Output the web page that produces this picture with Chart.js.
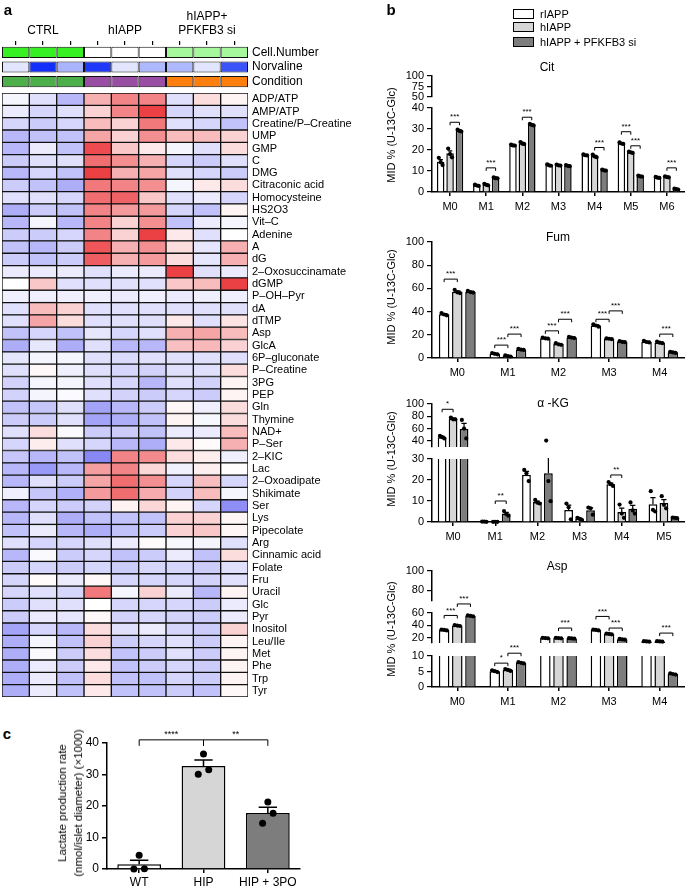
<!DOCTYPE html>
<html>
<head>
<meta charset="utf-8">
<script src="https://cdn.jsdelivr.net/npm/chart.js@4/dist/chart.umd.min.js"></script>
<style>
  body { margin: 0; width: 685px; height: 887px; position: relative; overflow: hidden; background: #fff;
         font-family: 'Liberation Sans', Arial, Helvetica, sans-serif; color: #000; }
  .t { position: absolute; white-space: nowrap; }
  .key { position: absolute; width: 19px; height: 8px; border: 1.5px solid #000; }
</style>
</head>
<body>
<script>
// ---------- panel a: heatmap ----------
const sampleIds = ['C1', 'C2', 'C3', 'H1', 'H2', 'H3', 'P1', 'P2', 'P3'];
const groupTickLabels = ['', 'CTRL', '', '', 'hIAPP', '', '', ['hIAPP+', 'PFKFB3 si'], ''];
const annotLabels = ['Cell.Number', 'Norvaline', 'Condition'];
const cellNumber = [1, 1, 1, 0, 0, 0, 0.45, 0.45, 0.45];
const norvaline = [0.12, 0.97, 0.35, 0.92, 0.12, 0.33, 0.33, 0.12, 0.8];
const condition = ['CTRL', 'CTRL', 'CTRL', 'hIAPP', 'hIAPP', 'hIAPP', 'PFKFB3', 'PFKFB3', 'PFKFB3'];
const conditionColors = { CTRL: '#4daf4a', hIAPP: '#984ea3', PFKFB3: '#ff7f0e' };

const rowLabels = ['ADP/ATP', 'AMP/ATP', 'Creatine/P–Creatine', 'UMP', 'GMP', 'C', 'DMG', 'Citraconic acid',
  'Homocysteine', 'HS2O3', 'Vit–C', 'Adenine', 'A', 'dG', '2–Oxosuccinamate', 'dGMP', 'P–OH–Pyr', 'dA',
  'dTMP', 'Asp', 'GlcA', '6P–gluconate', 'P–Creatine', '3PG', 'PEP', 'Gln', 'Thymine', 'NAD+', 'P–Ser',
  '2–KIC', 'Lac', '2–Oxoadipate', 'Shikimate', 'Ser', 'Lys', 'Pipecolate', 'Arg', 'Cinnamic acid',
  'Folate', 'Fru', 'Uracil', 'Glc', 'Pyr', 'Inositol', 'Leu/Ile', 'Met', 'Phe', 'Trp', 'Tyr'];

// scaled abundance, -1 (blue) .. 1 (red), one row per metabolite, columns as sampleIds
const heatValues = [
  [-0.05, -0.15, -0.35, 0.35, 0.55, 0.55, -0.15, 0.15, 0.05],
  [-0.1, -0.2, -0.15, 0.2, 0.55, 0.85, -0.2, -0.15, -0.15],
  [-0.2, -0.25, -0.2, 0.3, 0.2, 0.6, -0.15, -0.2, -0.3],
  [-0.35, -0.3, -0.3, 0.4, 0.2, 0.5, 0.3, 0.3, 0.2],
  [-0.35, -0.1, -0.3, 0.8, 0.25, 0.1, -0.05, -0.15, 0.15],
  [-0.25, -0.15, -0.15, 0.65, 0.5, 0.35, -0.2, -0.25, -0.15],
  [-0.35, -0.2, -0.3, 0.85, 0.35, 0.4, -0.15, -0.2, -0.25],
  [-0.25, -0.3, -0.4, 0.6, 0.55, 0.5, -0.05, 0.1, 0.15],
  [-0.15, -0.15, -0.2, 0.65, 0.7, 0.25, -0.15, -0.1, -0.2],
  [-0.4, -0.25, -0.3, 0.55, 0.45, 0.45, -0.2, -0.3, 0.05],
  [-0.35, -0.05, -0.35, 0.55, 0.2, 0.5, -0.3, -0.1, -0.05],
  [-0.25, -0.25, -0.2, 0.55, 0.2, 0.85, 0.1, -0.15, 0],
  [-0.3, -0.35, -0.25, 0.75, 0.35, 0.5, 0.15, -0.12, 0.35],
  [-0.25, -0.3, -0.25, 0.72, 0.35, 0.45, 0.15, -0.12, 0.35],
  [-0.1, -0.1, -0.1, -0.15, -0.1, -0.1, 0.85, -0.15, -0.1],
  [0, 0.25, -0.15, -0.15, -0.15, -0.15, 0.25, 0.3, 0.85],
  [-0.08, -0.08, -0.08, -0.08, -0.1, -0.08, -0.1, -0.08, -0.08],
  [-0.15, 0.3, 0.2, -0.15, -0.15, -0.15, -0.15, -0.15, -0.15],
  [-0.15, 0.4, 0.15, -0.15, -0.15, -0.15, 0.1, -0.15, 0.12],
  [-0.3, -0.2, -0.3, -0.12, -0.2, -0.15, 0.35, 0.4, 0.3],
  [-0.4, -0.12, -0.4, -0.15, -0.35, -0.35, 0.28, 0.32, 0.2],
  [-0.12, -0.05, -0.05, -0.15, -0.18, -0.15, -0.15, -0.15, -0.15],
  [-0.15, 0.03, -0.08, -0.15, -0.2, -0.22, -0.15, -0.15, 0.15],
  [-0.22, -0.05, -0.05, -0.15, -0.2, -0.35, -0.15, -0.22, 0.05],
  [-0.22, -0.05, -0.02, -0.15, -0.22, -0.25, -0.2, -0.25, 0.05],
  [-0.3, -0.28, -0.15, -0.45, -0.35, -0.25, 0.04, -0.08, 0.15],
  [-0.25, -0.25, -0.15, -0.45, -0.4, -0.3, 0.05, -0.04, 0.15],
  [-0.15, 0.15, -0.03, -0.25, -0.25, -0.3, -0.1, -0.1, 0.3],
  [-0.2, 0.08, -0.15, -0.2, -0.35, -0.4, 0.1, 0.02, 0.35],
  [-0.28, -0.35, -0.3, -0.58, 0.55, 0.52, 0.15, 0.08, -0.08],
  [-0.35, -0.5, -0.35, 0.43, 0.55, 0.18, -0.07, 0.07, 0.01],
  [-0.35, -0.15, -0.25, 0.4, 0.65, 0.5, -0.2, 0.29, -0.2],
  [-0.08, -0.28, -0.38, 0.45, 0.65, 0.37, -0.22, 0.3, -0.05],
  [-0.35, -0.2, -0.25, -0.22, 0.06, 0.18, 0.05, -0.2, -0.55],
  [-0.35, -0.15, -0.4, -0.3, -0.3, -0.3, 0.2, 0.2, 0.04],
  [-0.3, -0.1, -0.35, -0.4, -0.3, -0.25, 0.2, 0.25, 0.04],
  [-0.15, -0.2, -0.2, -0.15, -0.1, 0.02, -0.04, -0.05, -0.15],
  [-0.35, -0.03, -0.25, -0.2, -0.3, -0.25, -0.1, -0.3, 0.15],
  [-0.25, -0.2, -0.25, -0.2, -0.25, -0.2, -0.2, -0.25, -0.15],
  [-0.2, 0.02, -0.1, 0.03, -0.2, -0.2, -0.2, -0.22, -0.15],
  [-0.2, -0.15, -0.2, 0.6, -0.05, 0.2, -0.1, -0.35, 0.05],
  [-0.25, -0.15, -0.15, 0, -0.2, -0.2, -0.2, -0.25, -0.1],
  [-0.25, -0.1, -0.12, 0.03, -0.22, -0.2, -0.22, -0.25, -0.1],
  [-0.45, -0.2, -0.35, 0.15, -0.15, -0.1, -0.2, -0.25, 0.2],
  [-0.4, -0.05, -0.3, 0.2, -0.25, -0.2, -0.15, -0.25, 0.05],
  [-0.4, -0.03, -0.25, 0.15, -0.3, -0.25, -0.15, -0.25, 0.05],
  [-0.4, -0.1, -0.25, 0.1, -0.3, -0.25, -0.2, -0.25, 0.05],
  [-0.4, -0.1, -0.3, 0.15, -0.3, -0.3, -0.2, -0.25, 0.05],
  [-0.4, -0.1, -0.3, 0.1, -0.3, -0.3, -0.25, -0.3, 0.03]
];

// ---------- panel b: mass isotopomer distributions ----------
const seriesNames = ['rIAPP', 'hIAPP', 'hIAPP + PFKFB3 si'];
const seriesColors = ['#ffffff', '#d6d6d6', '#7d7d7d'];

const citLabels = ['M0', 'M1', 'M2', 'M3', 'M4', 'M5', 'M6'];
const citAxis = [[50, 100, [50, 75, 100]], [0, 40, [0, 10, 20, 30, 40]]];
const citMean = [
  [14.4, 3.2, 22.3, 12.8, 17.6, 23.2, 6.9],
  [18.4, 3.5, 23.2, 12.8, 17.1, 18.9, 7.2],
  [29.2, 6.7, 32.0, 12.5, 10.4, 7.5, 1.4]];
const citSem = [
  [1.0, 0.2, 0.2, 0.2, 0.2, 0.3, 0.2],
  [1.2, 0.3, 0.4, 0.2, 0.4, 0.2, 0.2],
  [0.4, 0.2, 0.3, 0.2, 0.2, 0.2, 0.1]];
const citDots = [
  [[16.3, 14.2, 12.8], [3.5, 3.1, 2.9], [22.6, 22.2, 22.1], [13.2, 12.7, 12.5], [17.9, 17.5, 17.4], [23.6, 23.1, 22.9], [7.2, 6.8, 6.7]],
  [[20.7, 18.0, 16.5], [3.9, 3.4, 3.2], [23.8, 23.0, 22.8], [13.1, 12.7, 12.6], [17.8, 16.9, 16.6], [19.2, 18.9, 18.6], [7.5, 7.1, 7.0]],
  [[29.7, 29.1, 28.8], [7.0, 6.6, 6.5], [32.4, 31.9, 31.7], [12.8, 12.4, 12.3], [10.7, 10.3, 10.2], [7.8, 7.4, 7.3], [1.6, 1.4, 1.2]]];
// [category, series a, series b, y value, axis segment, label]
const citMarks = [[0, 1, 2, 33.2, 1, '***'], [1, 1, 2, 11.5, 1, '***'], [2, 1, 2, 35.6, 1, '***'],
  [4, 1, 2, 21.2, 1, '***'], [5, 0, 1, 28.7, 1, '***'], [5, 1, 2, 22.0, 1, '***'], [6, 1, 2, 11.5, 1, '***']];

const fumLabels = ['M0', 'M1', 'M2', 'M3', 'M4'];
const fumAxis = [[0, 100, [0, 20, 40, 60, 80, 100]]];
const fumMean = [
  [37.7, 3.7, 17.1, 28.0, 14.0],
  [57.1, 1.7, 12.0, 16.6, 13.4],
  [57.0, 7.4, 17.7, 14.0, 4.9]];
const fumSem = [
  [0.6, 0.3, 0.3, 0.6, 0.4],
  [0.8, 0.3, 0.4, 0.2, 0.4],
  [0.4, 0.3, 0.3, 0.3, 0.3]];
const fumDots = [
  [[38.8, 37.5, 36.8], [4.3, 3.6, 3.2], [17.6, 17.0, 16.7], [29.0, 28.0, 27.0], [14.8, 13.8, 13.4]],
  [[58.8, 56.6, 56.0], [2.2, 1.6, 1.3], [12.8, 11.8, 11.4], [16.9, 16.6, 16.3], [14.2, 13.2, 12.8]],
  [[57.8, 56.8, 56.4], [7.9, 7.3, 7.0], [18.3, 17.6, 17.2], [14.5, 13.9, 13.6], [5.4, 4.9, 4.4]]];
const fumMarks = [[0, 0, 1, 68, 0, '***'], [1, 0, 1, 11.1, 0, '***'], [1, 1, 2, 20.6, 0, '***'],
  [2, 0, 1, 23.4, 0, '***'], [2, 1, 2, 33.4, 0, '***'], [3, 0, 1, 33.4, 0, '***'],
  [3, 1, 2, 40.6, 0, '***'], [4, 1, 2, 20.6, 0, '***']];

const kgLabels = ['M0', 'M1', 'M2', 'M3', 'M4', 'M5'];
const kgAxis = [[30, 100, [40, 60, 80, 100]], [0, 30, [0, 10, 20, 30]]];
const kgMean = [
  [46, 0.2, 22.5, 5.7, 18.0, 8.5],
  [76, 0.1, 9.5, 1.5, 4.8, 9.0],
  [59.5, 4.0, 23.2, 5.6, 6.3, 2.0]];
const kgSem = [
  [1.5, 0.1, 1.6, 2.3, 0.5, 3.1],
  [1.0, 0.05, 0.5, 0.4, 1.8, 1.7],
  [8.8, 0.6, 8.8, 1.1, 1.6, 0.1]];
const kgDots = [
  [[48, 46, 44], [0.2, 0.2, 0.1], [24.8, 23.2, 19.5], [8.8, 7.0, 1.3], [19.0, 18.0, 17.2], [14.7, 5.8, 5.0]],
  [[78, 75, 75], [0.1, 0.1, 0.1], [10.5, 9.2, 8.8], [2.0, 1.5, 1.0], [8.3, 4.0, 2.0], [12.3, 8.2, 6.5]],
  [[74, 60, 44], [5.2, 3.8, 3.0], [40.5, 19.5, 9.9], [6.9, 6.5, 3.5], [9.3, 5.5, 4.0], [2.1, 2.0, 1.8]]];
const kgMarks = [[0, 0, 1, 91.4, 0, '*'], [1, 1, 2, 10, 1, '**'], [4, 0, 1, 22.4, 1, '**']];

const aspLabels = ['M0', 'M1', 'M2', 'M3', 'M4'];
const aspAxis = [[69, 100, [80, 100]], [11, 60, [20, 40, 60]], [0, 10, [0, 5, 10]]];
const aspMean = [
  [32.3, 5.1, 19.0, 32.3, 13.5],
  [39.5, 5.5, 19.0, 25.8, 13.5],
  [55.3, 7.8, 18.4, 17.0, 4.2]];
const aspSem = [
  [0.4, 0.2, 0.3, 0.4, 0.3],
  [0.4, 0.2, 0.3, 0.4, 0.3],
  [0.4, 0.1, 0.3, 0.4, 0.1]];
const aspDots = [
  [[33.0, 32.3, 31.6], [5.4, 5.1, 4.8], [19.5, 19.0, 18.6], [33.0, 32.3, 31.6], [13.9, 13.5, 13.1]],
  [[40.2, 39.5, 38.8], [5.8, 5.5, 5.2], [19.5, 19.0, 18.6], [26.4, 25.8, 25.2], [13.9, 13.5, 13.1]],
  [[56.0, 55.3, 54.6], [8.0, 7.8, 7.6], [18.9, 18.4, 18.0], [17.6, 17.0, 16.5], [4.4, 4.2, 4.0]]];
const aspMarks = [[0, 0, 1, 56, 1, '***'], [0, 1, 2, 74.8, 1, '***'], [1, 0, 1, 7.7, 2, '*'],
  [1, 1, 2, 10.9, 2, '***'], [2, 1, 2, 35.4, 1, '***'], [3, 0, 1, 54.4, 1, '***'],
  [3, 1, 2, 35.4, 1, '***'], [4, 1, 2, 27.2, 1, '***']];

// ---------- panel c: lactate production ----------
const cLabels = ['WT', 'HIP', 'HIP + 3PO'];
const cColors = ['#ffffff', '#d6d6d6', '#7d7d7d'];
const cMean = [1.5, 32.7, 17.8];
const cSem = [1.3, 1.9, 1.8];
const cDots = [[4.4, 0, 0.1], [36.5, 30.1, 31.5], [21.3, 14.5, 17.7]];
const cTicks = [0, 10, 20, 30, 40];
const cMarks = [[0, 1, 41, '****'], [1, 2, 41, '**']];

// ---------- drawing ----------
const fontFamily = "'Liberation Sans', Arial, Helvetica, sans-serif";
Chart.defaults.font.family = fontFamily;
Chart.defaults.font.size = 11;
Chart.defaults.color = '#000';
Chart.defaults.animation = false;
Chart.defaults.plugins.legend.display = false;
Chart.defaults.plugins.tooltip.enabled = false;

const makeCanvas = (left, top, w, h) => {
  const c = document.createElement('canvas');
  c.width = w; c.height = h;
  c.style.cssText = `position:absolute;left:${left}px;top:${top}px;width:${w}px;height:${h}px`;
  document.body.appendChild(c);
  return c;
};

const addText = (html, cx, cy, css, rotate) => {
  const d = document.createElement('div');
  d.className = 't';
  d.innerHTML = html;
  d.style.cssText += `left:${cx}px;top:${cy}px;${css || ''};transform:translate(-50%,-50%)${rotate ? ' rotate(-90deg)' : ''}`;
  document.body.appendChild(d);
};

const mix = (end, t) => {
  t = Math.min(Math.abs(t), 1);
  return `rgb(${end.map(e => Math.round(255 + (e - 255) * t)).join(',')})`;
};
const heatColor = v => mix(v >= 0 ? [232, 30, 35] : [50, 50, 238], v);

// row-label axis on the right; no extra label padding so cells sit at fixed pixels
const rowAxis = size => ({
  position: 'right', stacked: true,
  grid: { display: false, drawTicks: false }, border: { display: false },
  ticks: { padding: 4, font: { size }, autoSkip: false },
  afterFit: s => { s.width = 132; s.paddingTop = 0; s.paddingBottom = 0; }
});

// annotation rows + column ticks
new Chart(makeCanvas(0, 0, 380, 91), {
  type: 'bar',
  data: {
    labels: annotLabels,
    datasets: sampleIds.map((id, col) => ({
      label: id,
      data: annotLabels.map(() => 1),
      backgroundColor: [mix([55, 240, 35], cellNumber[col]), mix([10, 40, 250], norvaline[col]), conditionColors[condition[col]]],
      borderColor: '#111', borderWidth: 1, borderSkipped: false,
      barPercentage: 1, categoryPercentage: 0.76
    }))
  },
  options: {
    indexAxis: 'y', responsive: false,
    layout: { padding: { left: 2, bottom: 2 } },
    scales: {
      x: {
        position: 'top', stacked: true, min: 0, max: 9,
        border: { display: false },
        grid: { drawOnChartArea: false, tickLength: 4, color: '#000', lineWidth: 1.2 },
        ticks: { padding: 3, font: { size: 12 }, maxRotation: 0, autoSkip: false, callback: (v, i) => groupTickLabels[i] },
        afterBuildTicks: s => { s.ticks = sampleIds.map((id, i) => ({ value: i + 0.5 })); },
        afterFit: s => { s.height = 45; s.paddingLeft = 0; s.paddingRight = 0; }
      },
      y: rowAxis(12)
    }
  }
});

// metabolite heatmap
new Chart(makeCanvas(0, 91, 380, 608), {
  type: 'bar',
  data: {
    labels: rowLabels,
    datasets: sampleIds.map((id, col) => ({
      label: id,
      data: rowLabels.map(() => 1),
      backgroundColor: heatValues.map(r => heatColor(r[col])),
      borderColor: '#111', borderWidth: 1, borderSkipped: false,
      barPercentage: 1, categoryPercentage: 1
    }))
  },
  options: {
    indexAxis: 'y', responsive: false,
    layout: { padding: { left: 2, top: 2, bottom: 2 } },
    scales: {
      x: { display: false, stacked: true, min: 0, max: 9 },
      y: rowAxis(11)
    }
  }
});

// error bars, replicate dots and significance brackets
const marksPlugin = o => ({
  id: 'marks',
  afterDatasetsDraw(chart) {
    const { ctx, chartArea } = chart;
    const scales = o.segIds.map(id => chart.scales[id]);
    const pick = v => {
      for (let i = scales.length - 1; i > 0; i--) if (v <= scales[i].max) return scales[i];
      return scales[0];
    };
    ctx.save();
    ctx.strokeStyle = '#000';
    ctx.fillStyle = '#000';
    o.mean.forEach((row, k) => {
      row.forEach((m, j) => {
        const bar = chart.getDatasetMeta(o.meta(k)).data[o.cat(k, j)];
        const s = pick(m);
        ctx.save();
        ctx.beginPath();
        ctx.rect(chartArea.left, s.top - 1, chartArea.right - chartArea.left, s.bottom - s.top + 2);
        ctx.clip();
        const y0 = s.getPixelForValue(m), y1 = s.getPixelForValue(m + o.sem[k][j]);
        const cap = bar.width * o.cap;
        ctx.lineWidth = o.lw;
        ctx.beginPath();
        ctx.moveTo(bar.x, y0); ctx.lineTo(bar.x, y1);
        ctx.moveTo(bar.x - cap, y1); ctx.lineTo(bar.x + cap, y1);
        ctx.stroke();
        ctx.restore();
        o.dots[k][j].forEach((v, r) => {
          ctx.beginPath();
          ctx.arc(bar.x + o.jitter[r] * bar.width, pick(v).getPixelForValue(v), o.r, 0, Math.PI * 2);
          ctx.fill();
        });
      });
    });
    ctx.lineWidth = 1;
    ctx.font = `${o.fs}px ${fontFamily}`;
    ctx.textAlign = 'center';
    ctx.textBaseline = 'bottom';
    o.brackets(chart, scales).forEach(([xa, xb, yy, txt]) => {
      ctx.beginPath();
      ctx.moveTo(xa, yy + o.tick); ctx.lineTo(xa, yy); ctx.lineTo(xb, yy); ctx.lineTo(xb, yy + o.tick);
      ctx.stroke();
      ctx.fillText(txt, (xa + xb) / 2, yy - 1);
    });
    ctx.restore();
  }
});

const midChart = (top, height, segPx, labels, axis, mean, sem, dots, marks) => {
  const scales = {
    x: {
      grid: { offset: false, drawOnChartArea: false, color: '#000', lineWidth: 1.5, tickLength: 4 },
      border: { color: '#000', width: 1.5 },
      ticks: { font: { size: 11 }, padding: 4 },
      afterFit: s => { s.height = 24; }
    }
  };
  const segIds = [];
  segPx.forEach((h, i) => {
    const weight = segPx.length - i;
    if (i % 2) {
      scales['gap' + i] = { type: 'linear', position: 'left', stack: 'v', stackWeight: h, weight, display: false };
      return;
    }
    const [min, max, ticks] = axis[i / 2];
    const id = i === segPx.length - 1 ? 'y' : 'y' + i;
    segIds.push(id);
    scales[id] = {
      type: 'linear', position: 'left', stack: 'v', stackWeight: h, weight,
      min, max, stacked: false, beginAtZero: min === 0,
      border: { color: '#000', width: 1.5 },
      grid: { drawOnChartArea: false, color: '#000', lineWidth: 1.2, tickLength: 5 },
      ticks: { font: { size: 11 }, padding: 3, autoSkip: false },
      afterBuildTicks: s => { s.ticks = ticks.map(v => ({ value: v })); },
      afterFit: s => { s.width = 47; }
    };
  });
  const datasets = [];
  for (let i = segIds.length - 1; i >= 0; i--) {
    const min = axis[i][0];
    const lowest = i === segIds.length - 1;
    mean.forEach((row, k) => datasets.push({
      label: seriesNames[k], stack: 's' + k, yAxisID: segIds[i],
      data: row.map(v => (lowest || v >= min) ? v : null),
      backgroundColor: seriesColors[k], borderColor: '#000', borderWidth: 1.5,
      categoryPercentage: 0.78, barPercentage: 0.8
    }));
  }
  new Chart(makeCanvas(385, top, 300, height), {
    type: 'bar',
    data: { labels, datasets },
    options: { responsive: false, layout: { padding: { top: 10 } }, scales },
    plugins: [marksPlugin({
      segIds, mean, sem, dots, r: 2.1, cap: 0.3, lw: 1.2, jitter: [-0.25, 0, 0.25], tick: 3, fs: 8,
      meta: k => k, cat: (k, j) => j,
      brackets: (chart, sc) => marks.map(([j, a, b, y, s, txt]) => [
        chart.getDatasetMeta(a).data[j].x, chart.getDatasetMeta(b).data[j].x, sc[s].getPixelForValue(y), txt])
    })]
  });
};

midChart(66, 150, [21, 11, 84], citLabels, citAxis, citMean, citSem, citDots, citMarks);
midChart(232, 150, [116], fumLabels, fumAxis, fumMean, fumSem, fumDots, fumMarks);
midChart(394, 152, [43, 12, 63], kgLabels, kgAxis, kgMean, kgSem, kgDots, kgMarks);
midChart(561, 150, [30, 12, 30, 13, 31], aspLabels, aspAxis, aspMean, aspSem, aspDots, aspMarks);

// panel c
new Chart(makeCanvas(40, 722, 270, 165), {
  type: 'bar',
  data: {
    labels: cLabels,
    datasets: [{
      label: 'Lactate', data: cMean, backgroundColor: cColors, borderColor: '#000', borderWidth: 1.5,
      categoryPercentage: 0.68, barPercentage: 1
    }]
  },
  options: {
    responsive: false,
    layout: { padding: { top: 21, right: 10 } },
    scales: {
      x: {
        grid: { offset: false, drawOnChartArea: false, color: '#000', lineWidth: 1.5, tickLength: 4 },
        border: { color: '#000', width: 1.5 },
        ticks: { font: { size: 12 }, padding: 2 },
        afterFit: s => { s.height = 18; }
      },
      y: {
        min: 0, max: 40,
        border: { color: '#000', width: 1.5 },
        grid: { drawOnChartArea: false, color: '#000', lineWidth: 1.5, tickLength: 5 },
        ticks: { font: { size: 12 }, padding: 3, autoSkip: false },
        afterBuildTicks: s => { s.ticks = cTicks.map(v => ({ value: v })); },
        afterFit: s => { s.width = 67; }
      }
    }
  },
  plugins: [marksPlugin({
    segIds: ['y'], mean: cMean.map(m => [m]), sem: cSem.map(v => [v]), dots: cDots.map(d => [d]),
    r: 3.5, cap: 0.21, lw: 1.5, jitter: [0, -0.12, 0.12], tick: 6, fs: 9,
    meta: k => 0, cat: (k, j) => k,
    brackets: (chart, sc) => cMarks.map(([a, b, y, txt]) => [
      chart.getDatasetMeta(0).data[a].x, chart.getDatasetMeta(0).data[b].x, sc[0].getPixelForValue(y), txt])
  })]
});

// panel letters, titles, legend and axis titles
addText('a', 8, 9, 'font-weight:bold;font-size:15px');
addText('b', 391, 9, 'font-weight:bold;font-size:15px');
addText('c', 7, 733, 'font-weight:bold;font-size:15px');

addText('Cit', 547, 67, 'font-size:12px');
addText('Fum', 558, 237, 'font-size:12px');
addText('α -KG', 553, 403, 'font-size:12px');
addText('Asp', 557, 566, 'font-size:12px');

const yTitle = 'MID % (U-13C-Glc)';
[[391, 135], [391, 297], [391, 459], [391, 629]].forEach(([x, y]) => addText(yTitle, x, y, 'font-size:11px', true));
addText('Lactate production rate<br>(nmol/islet diameter) (×1000)', 70, 803,
  'font-size:11.5px;line-height:16px;text-align:center', true);

seriesNames.forEach((name, k) => {
  const top = [9, 22, 37][k];
  const box = document.createElement('div');
  box.className = 'key';
  box.style.cssText += `left:513px;top:${top}px;background:${seriesColors[k]}`;
  document.body.appendChild(box);
  const t = document.createElement('div');
  t.className = 't';
  t.textContent = name;
  t.style.cssText += `left:540px;top:${top - 1}px;font-size:11px;line-height:13px`;
  document.body.appendChild(t);
});
</script>
</body>
</html>
